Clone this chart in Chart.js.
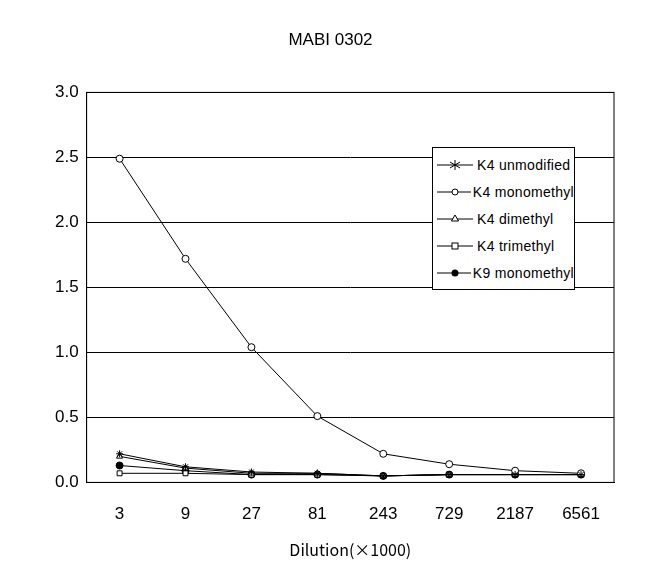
<!DOCTYPE html>
<html><head><meta charset="utf-8">
<script src="https://cdn.jsdelivr.net/npm/chart.js@4"></script>
<style>
body{margin:0;background:#fff}
#wrap{position:relative;width:659px;height:584px}
#legend{position:absolute;left:432px;top:147px;width:143px;height:143px;border:1px solid #000;background:#fff;font:14px "Liberation Sans",Arial,sans-serif;letter-spacing:0.3px;box-sizing:border-box;padding:3px 0 0 2px}
#legend div{height:27px;display:flex;align-items:center;white-space:nowrap}
#legend svg{margin-right:2px}
</style></head><body>
<div id="wrap"><canvas id="c" width="659" height="584"></canvas><div id="legend"></div></div>
<script>
const labels = ["3", "9", "27", "81", "243", "729", "2187", "6561"];
const k4Unmod = [0.22, 0.12, 0.08, 0.07, 0.05, 0.06, 0.06, 0.06];
const k4Mono = [2.49, 1.72, 1.04, 0.51, 0.22, 0.14, 0.09, 0.07];
const k4Di = [0.20, 0.11, 0.07, 0.07, 0.05, 0.06, 0.06, 0.06];
const k4Tri = [0.07, 0.07, 0.06, 0.06, 0.05, 0.06, 0.06, 0.06];
const k9Mono = [0.13, 0.09, 0.06, 0.06, 0.05, 0.06, 0.06, 0.06];

const mk = (label, data, style, fill) => ({
  label, data, borderColor: "#000", borderWidth: 1, pointStyle: style,
  pointRadius: 3.5, pointBackgroundColor: fill, pointBorderColor: "#000", tension: 0
});

const frame = {
  id: "frame",
  afterDraw(c) {
    const a = c.chartArea, g = c.ctx;
    g.save(); g.strokeStyle = "#000"; g.lineWidth = 1;
    g.strokeRect(a.left, a.top, a.right - a.left, a.bottom - a.top);
    g.restore();
  }
};

new Chart("c", {
  type: "line",
  data: {
    labels,
    datasets: [
      mk("K4 unmodified", k4Unmod, "star", "#000"),
      mk("K4 monomethyl", k4Mono, "circle", "#fff"),
      mk("K4 dimethyl", k4Di, "triangle", "#fff"),
      mk("K4 trimethyl", k4Tri, "rect", "#fff"),
      mk("K9 monomethyl", k9Mono, "circle", "#000")
    ]
  },
  options: {
    responsive: false, animation: false,
    layout: { padding: { left: 47, right: 45, top: 0, bottom: 20 } },
    plugins: {
      legend: { display: false },
      title: { display: true, text: "MABI 0302", color: "#000",
        font: { family: "Liberation Sans", size: 17, weight: "normal" }, padding: { top: 30, bottom: 42 } }
    },
    scales: {
      y: { min: 0, max: 3,
        ticks: { stepSize: 0.5, color: "#000", font: { family: "Liberation Sans", size: 17 }, callback: v => v.toFixed(1), padding: 8 },
        grid: { color: "#000", tickLength: 0 }, border: { color: "#000" } },
      x: { offset: true,
        ticks: { color: "#000", font: { family: "Liberation Sans", size: 17 }, padding: 14 },
        grid: { display: false }, border: { color: "#000" },
        title: { display: true, text: "Dilution(×1000)", color: "#000",
          font: { family: "Noto Sans CJK JP", size: 16 }, padding: { top: 2 } } }
    }
  },
  plugins: [frame]
});

const icons = {
  star: '<path d="M20 3v10M15 5l10 6M25 5l-10 6" stroke="#000"/>',
  circle: '<circle cx="20" cy="8" r="3" fill="#fff" stroke="#000"/>',
  triangle: '<path d="M20 4l3.5 6h-7z" fill="#fff" stroke="#000"/>',
  rect: '<rect x="17" y="5" width="6" height="6" fill="#fff" stroke="#000"/>',
  dot: '<circle cx="20" cy="8" r="3.5" fill="#000"/>'
};
const names = [["K4 unmodified","star"],["K4 monomethyl","circle"],["K4 dimethyl","triangle"],["K4 trimethyl","rect"],["K9 monomethyl","dot"]];
document.getElementById("legend").innerHTML = names.map(([n, s]) =>
  '<div><svg width="40" height="16"><path d="M2 8h36" stroke="#000"/>' + icons[s] + '</svg>' + n + '</div>').join("");
</script>
</body></html>
